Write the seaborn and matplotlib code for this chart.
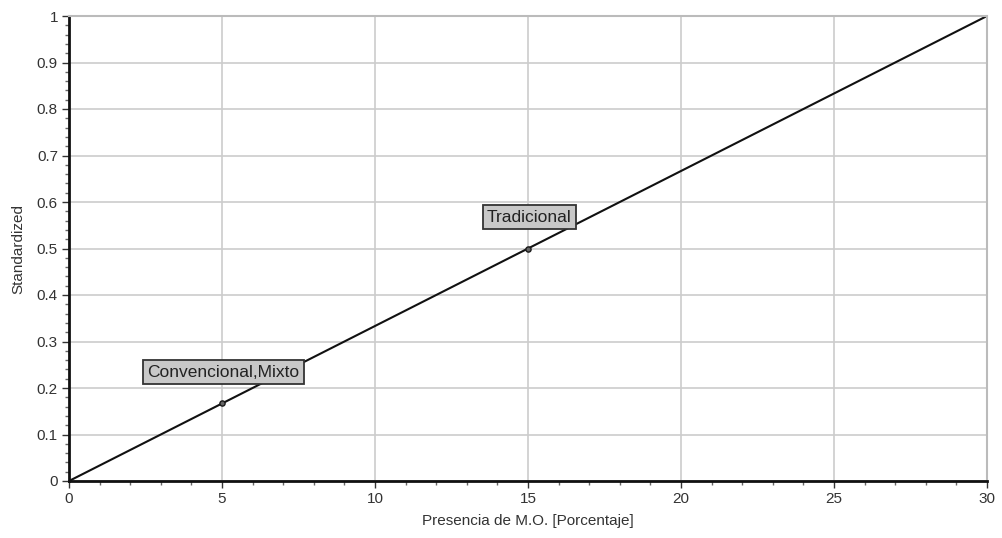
import matplotlib
matplotlib.use("Agg")
import matplotlib.pyplot as plt
import seaborn as sns
import pandas as pd
from matplotlib.ticker import MultipleLocator

# data
x_vals = [0, 5, 15, 30]
y_vals = [0.0, 0.1667, 0.5, 1.0]
point_x = [5, 15]
point_y = [0.1667, 0.5]
point_labels = ["Convencional,Mixto", "Tradicional"]

sns.set_style("white")
plt.rcParams["font.family"] = ["Liberation Sans", "DejaVu Sans"]

df = pd.DataFrame({"x": x_vals, "y": y_vals})

fig = plt.figure(figsize=(10.02, 5.38), dpi=100)
ax = fig.add_axes([69 / 1002, 1 - 481 / 538, (987 - 69) / 1002, (481 - 16) / 538])

sns.lineplot(data=df, x="x", y="y", ax=ax, color="#111111", lw=1.5)
ax.scatter(point_x, point_y, s=14, facecolor="#666666", edgecolor="#1a1a1a",
           lw=1, zorder=4)

# labels sit about 31 px above their points
for px, py, lab in zip(point_x, point_y, point_labels):
    ax.annotate(lab, xy=(px, py), xytext=(1, 22.5), textcoords="offset points",
                ha="center", va="center", fontsize=12.5, color="#222222",
                bbox=dict(boxstyle="square,pad=0.25", fc="#c8c8c8",
                          ec="#333333", lw=1.3),
                zorder=5)

ax.set_xlim(0, 30)
ax.set_ylim(0, 1)
ax.xaxis.set_major_locator(MultipleLocator(5))
ax.xaxis.set_minor_locator(MultipleLocator(1))
ax.yaxis.set_major_locator(MultipleLocator(0.1))
ax.yaxis.set_minor_locator(MultipleLocator(0.02))
ax.set_yticks([0, 0.1, 0.2, 0.3, 0.4, 0.5, 0.6, 0.7, 0.8, 0.9, 1.0])
ax.set_yticklabels(["0", "0.1", "0.2", "0.3", "0.4", "0.5", "0.6", "0.7",
                    "0.8", "0.9", "1"])

ax.grid(True, which="major", color="#cccccc", lw=1.2)
ax.tick_params(which="major", direction="out", length=5, width=1,
               color="#333333", labelsize=11, labelcolor="#333333", pad=3)
ax.tick_params(which="minor", direction="out", length=3, width=1,
               color="#666666")
ax.tick_params(axis="x", which="both", bottom=True)
ax.tick_params(axis="y", which="both", left=True)

for side in ["left", "bottom"]:
    ax.spines[side].set_color("#111111")
    ax.spines[side].set_linewidth(2)
for side in ["top", "right"]:
    ax.spines[side].set_color("#bbbbbb")
    ax.spines[side].set_linewidth(1.5)

ax.set_xlabel("Presencia de M.O. [Porcentaje]", fontsize=11, color="#333333",
              labelpad=6)
ax.set_ylabel("Standardized", fontsize=11, color="#333333", labelpad=8)

fig.savefig("out.png", dpi=100)
